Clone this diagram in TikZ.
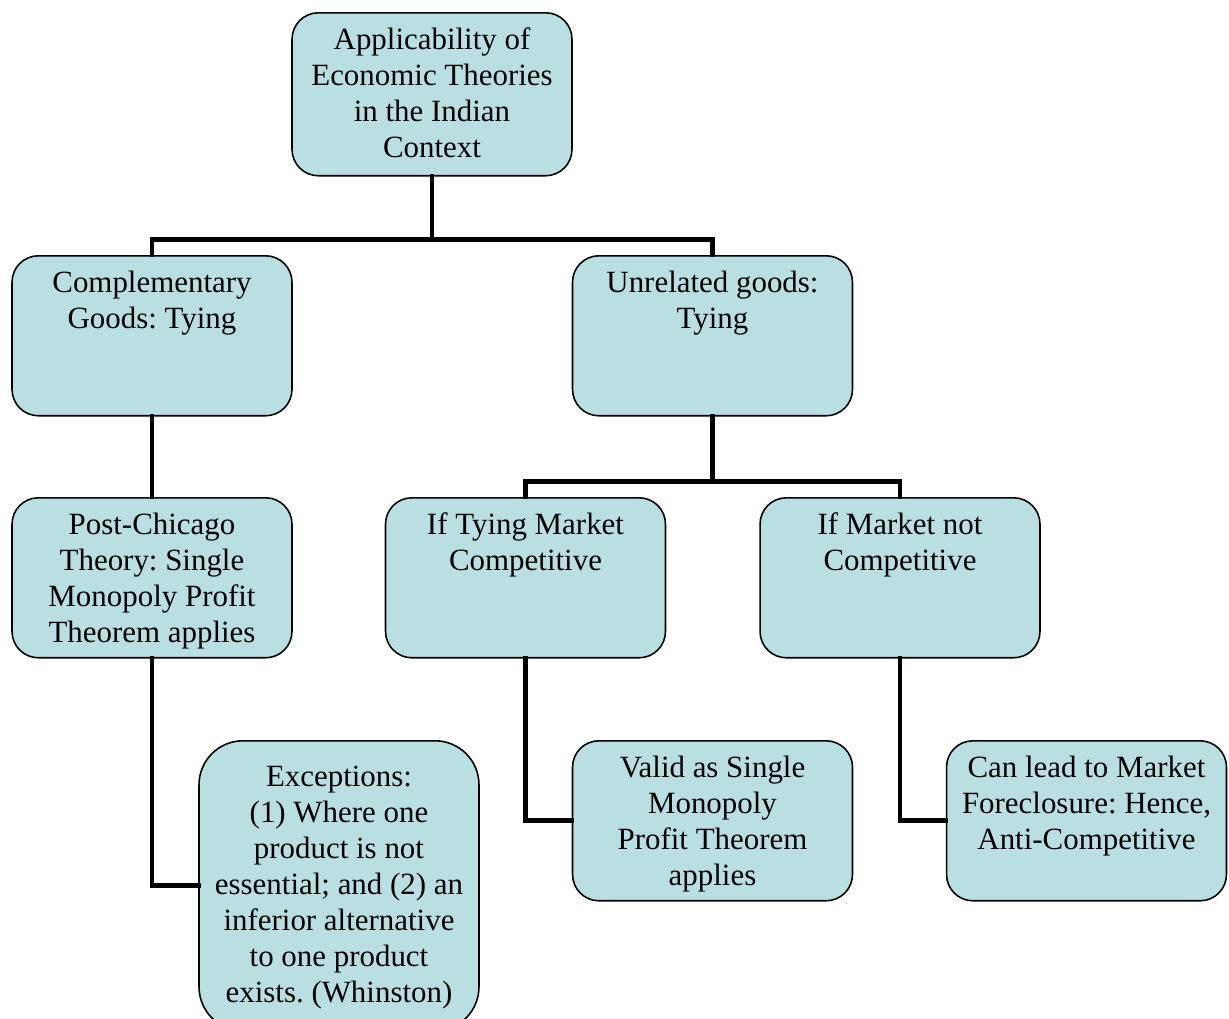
\documentclass[tikz,border=0pt]{standalone}
\usepackage{fontspec}
\setmainfont{Liberation Serif}
\frenchspacing
\definecolor{boxfill}{HTML}{BADFE2}
\tikzset{
  box/.style={draw, fill=boxfill, line width=0.9pt, rounded corners=15pt,
    minimum width=5.6cm, minimum height=3.2cm, inner sep=0pt, anchor=north},
  link/.style={line width=2.8pt, line cap=rect}
}
% text block, top aligned; optional arg is the height of the text area
\newcommand{\boxtxt}[2][2.6cm]{\parbox[c][#1][t]{5.5cm}{\centering\fontsize{17.6}{20.5}\selectfont #2}}
\begin{document}
\begin{tikzpicture}[x=0.02cm,y=-0.02cm]
\useasboundingbox (0,0) rectangle (1229,1018);
\node[box, minimum height=3.26cm] (top) at (432,12) {\boxtxt[2.66cm]{Applicability of\\Economic Theories\\in the Indian\\Context}};
\node[box] (comp) at (152,255) {\boxtxt{Complementary\\Goods: Tying}};
\node[box] (unrel) at (712.5,255) {\boxtxt{Unrelated goods:\\Tying}};
\node[box] (post) at (152,497) {\boxtxt{Post-Chicago\\Theory: Single\\Monopoly Profit\\Theorem applies}};
\node[box] (tying) at (525.5,497) {\boxtxt{If Tying Market\\Competitive}};
\node[box] (notcomp) at (900,497) {\boxtxt{If Market not\\Competitive}};
\node[box, minimum height=5.8cm, rounded corners=25pt] (exc) at (339,740) {\boxtxt[4.8cm]{Exceptions:\\(1) Where one\\product is not\\essential; and (2) an\\inferior alternative\\to one product\\exists. (Whinston)}};
\node[box] (valid) at (712.5,740) {\boxtxt{Valid as Single\\Monopoly\\Profit Theorem\\applies}};
\node[box] (lead) at (1086.5,740) {\boxtxt{Can lead to Market\\Foreclosure: Hence,\\Anti-Competitive}};

\draw[link] (top.south) -- ++(0,63) -| (comp.north);
\draw[link] (top.south) -- ++(0,63) -| (unrel.north);
\draw[link] (comp.south) -- (post.north);
\draw[link] (unrel.south) -- ++(0,65) -| (tying.north);
\draw[link] (unrel.south) -- ++(0,65) -| (notcomp.north);
\draw[link] (post.south) |- (exc.west);
\draw[link] (tying.south) |- (valid.west);
\draw[link] (notcomp.south) |- (lead.west);
\end{tikzpicture}
\end{document}
